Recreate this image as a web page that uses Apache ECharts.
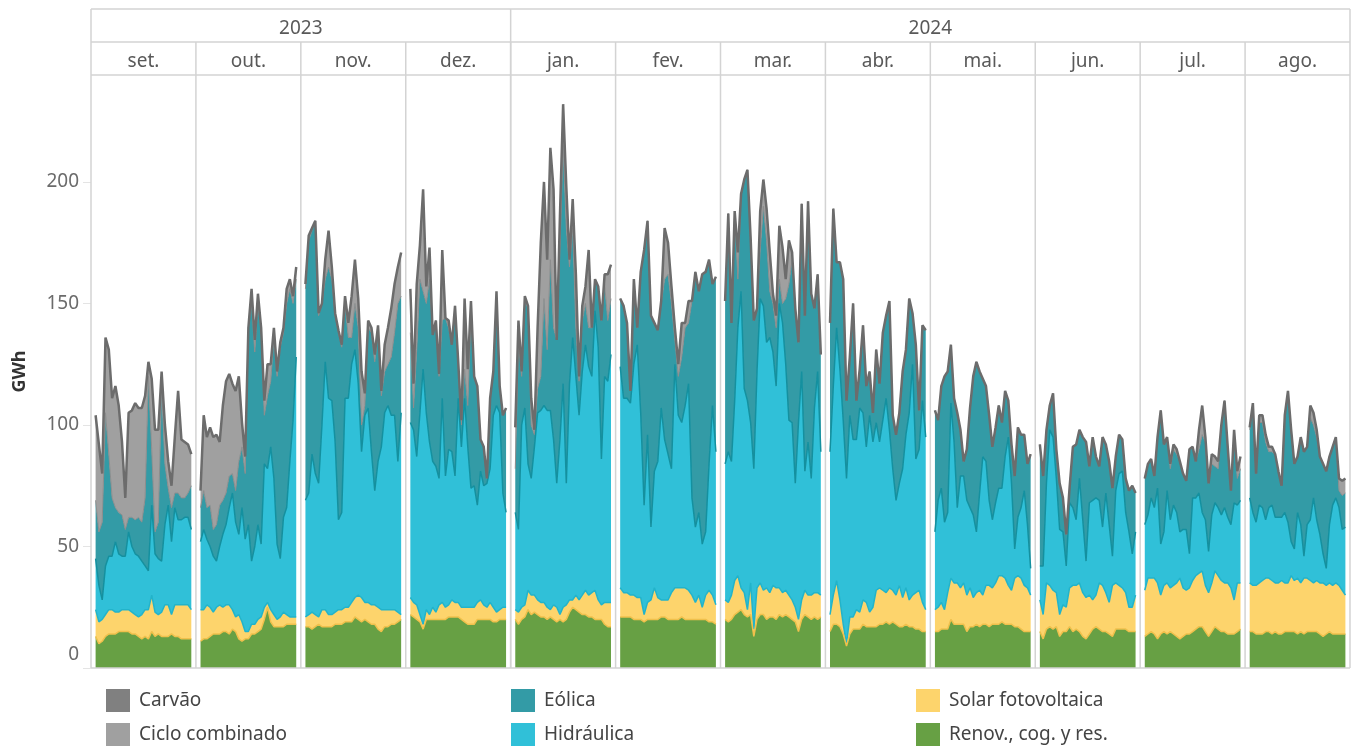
<!DOCTYPE html>
<html lang="pt">
<head>
<meta charset="utf-8">
<title>Produção diária de eletricidade por fonte</title>
<script src="https://cdn.jsdelivr.net/npm/echarts/dist/echarts.min.js"></script>
<style>
  html, body { margin: 0; padding: 0; background: #ffffff; }
  #chart { width: 1356px; height: 746px; }
</style>
</head>
<body>
<div id="chart"></div>
<script>
// ---- Categories -----------------------------------------------------------
const monthLabels = ['set.', 'out.', 'nov.', 'dez.', 'jan.', 'fev.', 'mar.', 'abr.', 'mai.', 'jun.', 'jul.', 'ago.'];
const yearLabels = ['2023', '2024'];
const monthsPerYear = [4, 8];

// ---- Daily generation (GWh), one inner array per month, set. 2023 .. ago. 2024 ----
const renovCogRes = [
  [13,10,11,13,14,14,14,15,15,15,15,14,14,13,12,13,12,15,13,14,13,13,13,14,13,13,12,12,12,12],
  [11,12,12,13,14,14,14,15,15,14,16,15,12,11,12,12,14,14,15,16,20,25,19,17,17,17,17,18,18,18,18],
  [17,17,16,17,18,17,17,17,17,18,18,18,19,19,19,21,20,19,20,19,18,18,16,15,17,17,18,18,19,20],
  [22,21,20,19,16,20,20,20,20,20,20,20,21,21,21,21,20,19,18,18,18,20,20,20,20,20,19,19,20,20,20],
  [20,18,20,21,24,22,23,22,21,21,20,21,20,19,20,19,20,23,25,24,23,22,22,21,21,20,20,20,18,17,17],
  [21,21,21,21,20,20,20,19,20,20,20,20,21,21,20,20,20,20,21,20,20,20,20,20,20,20,19,19,18],
  [20,19,20,22,23,24,22,21,22,13,20,22,22,20,21,21,20,22,21,22,21,20,19,15,20,22,21,20,21,20,21],
  [15,18,18,17,14,9,14,16,16,16,18,17,17,17,17,18,18,19,18,19,18,17,17,18,17,17,16,16,15,15],
  [15,15,16,16,16,20,18,18,18,18,15,17,17,18,17,18,18,17,18,18,18,19,18,18,18,17,17,16,15,15,15],
  [15,12,16,17,16,17,13,15,15,17,15,16,15,13,12,14,16,17,16,15,15,14,13,16,16,16,16,15,15,15],
  [13,14,15,14,12,14,15,14,15,14,13,12,13,14,14,15,16,17,17,15,13,15,17,16,15,15,14,14,14,15,16],
  [15,15,14,14,14,15,15,14,15,14,14,15,15,15,15,14,15,14,15,15,15,15,14,13,14,15,14,14,14,14,14]
];
const solarFV = [
  [11,9,9,9,10,10,9,8,9,9,9,9,8,8,10,11,12,15,10,8,10,13,13,8,13,13,14,14,14,12],
  [13,12,14,12,9,11,12,10,11,12,8,6,10,8,3,3,4,4,5,5,5,2,5,5,3,4,6,4,3,3,3],
  [4,5,7,5,3,7,7,5,5,5,6,6,6,6,8,8,10,10,7,8,8,8,9,9,7,7,6,6,4,2],
  [7,6,6,3,2,4,2,5,3,6,7,5,5,7,6,6,5,6,7,7,7,7,8,6,5,7,6,4,4,5,5],
  [4,5,5,5,8,8,7,6,6,6,5,3,6,6,2,6,6,5,3,6,5,8,10,9,10,12,8,6,9,10,10],
  [12,10,10,9,10,9,9,3,7,8,13,9,7,7,8,11,13,13,12,13,12,10,7,10,5,10,13,11,8],
  [8,8,10,14,15,9,9,3,13,3,13,13,10,13,10,13,13,11,10,10,9,8,6,5,8,10,9,10,10,11,9],
  [7,12,18,11,4,1,7,5,8,7,10,10,6,8,15,15,14,12,15,13,12,17,12,15,11,13,15,16,12,9],
  [9,10,11,8,15,17,17,17,15,17,15,16,12,13,15,12,16,17,15,17,20,19,19,16,14,20,21,21,19,18,15],
  [13,10,19,17,16,14,9,11,10,16,19,18,20,18,17,16,12,13,19,19,16,13,21,19,18,17,15,10,10,15],
  [19,23,22,23,23,16,19,21,18,20,22,25,20,18,19,21,22,22,23,19,18,20,23,22,21,20,21,19,14,20,19],
  [20,19,20,21,22,22,22,22,20,21,22,20,20,23,21,23,20,23,22,21,20,21,21,22,20,20,20,21,20,18,16]
];
const hidraulica = [
  [21,15,8,20,22,22,29,24,22,22,32,27,25,25,22,18,16,37,24,23,21,33,41,30,40,35,35,36,36,33],
  [28,33,27,25,23,19,24,30,33,40,48,39,33,47,38,44,26,32,39,30,59,55,67,56,31,24,39,44,64,81,107],
  [48,50,65,58,55,76,102,89,88,70,37,40,86,86,98,102,87,60,77,80,63,47,60,67,81,84,80,80,62,83],
  [72,71,61,83,105,81,71,60,60,52,84,54,64,61,52,84,66,86,66,49,50,40,53,49,51,55,79,85,81,47,39],
  [40,34,75,81,52,48,61,77,79,81,81,82,68,51,72,92,50,89,108,90,76,92,101,94,89,115,104,60,93,91,102],
  [91,80,80,79,95,104,76,45,69,30,48,56,79,66,60,51,92,71,68,75,85,40,31,34,26,26,52,78,63],
  [56,62,55,74,102,122,84,86,66,66,89,117,117,101,105,96,83,117,111,93,72,73,51,81,94,49,63,48,76,91,59],
  [67,86,104,95,84,68,83,73,70,84,77,64,81,68,69,60,70,80,65,50,39,42,53,63,77,95,55,58,83,71],
  [32,44,47,36,33,72,58,31,46,44,39,33,34,25,40,57,51,35,28,33,36,36,50,61,44,12,24,29,39,26,11],
  [14,20,41,64,63,47,35,30,17,35,32,27,43,30,15,38,41,40,34,24,41,32,12,38,46,48,33,31,22,26],
  [27,26,33,29,39,21,22,38,28,33,29,19,24,25,14,34,32,33,24,27,17,28,28,28,27,31,27,26,40,32,34],
  [35,30,26,32,30,24,29,31,27,27,26,29,25,14,13,27,24,9,22,25,35,25,20,12,7,24,33,35,32,25,28]
];
const eolica = [
  [24,22,32,63,42,24,14,17,17,11,6,12,14,16,16,28,80,23,9,15,72,25,7,14,6,11,9,8,10,18],
  [14,16,13,17,11,15,17,14,13,13,8,13,30,25,27,81,106,80,91,87,20,30,27,58,69,87,76,84,71,48,32],
  [87,104,92,104,69,50,34,54,50,52,77,68,39,25,11,19,23,11,4,33,49,53,53,21,17,17,24,34,65,48],
  [37,9,44,55,32,45,67,52,60,42,32,65,50,44,70,15,9,12,17,71,45,49,13,16,2,29,18,45,11,32,43],
  [18,77,20,44,64,22,5,10,14,44,25,62,46,59,78,98,105,48,45,20,14,21,17,16,20,13,25,57,38,25,23],
  [28,38,31,5,35,7,58,105,88,87,61,54,43,66,74,68,10,16,27,32,25,81,105,91,111,107,84,50,72],
  [67,98,57,78,20,40,86,95,76,61,26,20,41,42,19,20,24,10,8,27,56,67,72,33,69,64,99,76,41,40,40],
  [53,73,27,44,58,32,24,56,16,16,36,25,18,12,30,24,36,34,53,22,27,29,40,35,47,21,47,16,31,44],
  [50,33,42,60,58,24,18,39,19,6,21,41,57,70,50,32,31,35,30,31,34,27,27,15,16,30,37,30,23,25,47],
  [50,37,22,10,18,12,19,14,13,6,25,31,20,34,49,15,26,17,14,37,20,26,28,14,16,13,14,17,28,16],
  [19,21,16,13,21,55,36,22,21,23,24,29,23,20,43,21,15,18,32,32,28,21,15,16,36,44,29,14,28,11,13],
  [28,44,20,34,35,32,23,22,26,19,13,40,54,46,35,23,36,43,32,42,30,34,32,37,40,28,24,25,7,14,14]
];
const cicloCombinado = [
  [35,36,20,31,43,41,50,44,30,13,43,44,48,45,47,42,6,29,42,38,6,16,11,9,23,42,24,23,20,13],
  [7,31,29,32,38,37,26,39,46,42,37,41,35,10,7,0,6,5,4,2,6,13,7,4,2,2,2,6,4,3,5],
  [2,2,1,0,1,0,8,15,5,1,1,1,3,6,17,18,12,22,5,3,2,3,3,2,11,15,20,20,15,18],
  [18,10,27,14,42,7,13,0,0,1,29,0,3,0,0,0,2,29,15,6,0,0,0,0,0,0,0,2,0,0,0],
  [17,9,2,2,1,11,2,25,55,48,37,46,57,0,14,17,17,3,12,22,2,6,7,32,0,0,0,0,4,19,14],
  [0,0,0,0,0,0,0,0,0,0,0,0,1,21,13,7,5,5,14,2,9,0,0,0,0,0,0,0,0],
  [0,0,0,0,11,0,0,0,0,0,0,16,11,13,16,4,5,22,23,8,18,3,0,0,0,0,0,0,0,0,0],
  [0,0,0,0,0,0,0,0,0,0,0,0,0,0,0,0,0,0,0,0,0,0,0,0,0,0,0,0,0,0],
  [0,0,0,0,0,0,0,0,0,0,0,0,0,0,0,0,0,0,0,0,0,0,0,0,0,0,0,0,0,0,0],
  [0,0,0,0,0,0,0,0,0,0,0,0,0,0,0,0,0,0,0,0,0,0,0,0,0,0,0,0,0,0],
  [0,0,0,0,0,0,0,0,2,2,2,0,0,0,0,0,0,8,12,2,0,4,4,3,1,0,0,0,2,3,5],
  [1,1,0,3,3,3,2,2,0,0,0,0,0,0,0,0,0,0,0,5,5,3,0,0,0,0,0,0,5,6,6]
];
const carvao = [
  [0,0,0,0,0,0,0,0,0,0,0,0,0,0,0,0,0,0,0,0,0,0,0,0,0,0,0,0,0,0],
  [0,0,0,0,0,0,0,0,0,0,0,0,0,0,0,0,0,0,0,0,0,0,0,0,0,0,0,0,0,0,0],
  [0,0,0,0,0,0,0,0,0,0,0,0,0,0,0,0,0,0,0,0,0,0,0,0,0,0,0,0,0,0],
  [0,0,0,0,0,0,0,0,0,0,0,0,0,0,0,0,0,0,0,0,0,0,0,0,0,0,0,0,0,0,0],
  [0,0,0,0,0,0,0,0,0,0,0,0,0,0,0,0,0,0,0,0,0,0,0,0,0,0,0,0,0,0,0],
  [0,0,0,0,0,0,0,0,0,0,0,0,0,0,0,0,0,0,0,0,0,0,0,0,0,0,0,0,0],
  [0,0,0,0,0,0,0,0,0,0,0,0,0,0,0,0,0,0,0,0,0,0,0,0,0,0,0,0,0,0,0],
  [0,0,0,0,0,0,0,0,0,0,0,0,0,0,0,0,0,0,0,0,0,0,0,0,0,0,0,0,0,0],
  [0,0,0,0,0,0,0,0,0,0,0,0,0,0,0,0,0,0,0,0,0,0,0,0,0,0,0,0,0,0,0],
  [0,0,0,0,0,0,0,0,0,0,0,0,0,0,0,0,0,0,0,0,0,0,0,0,0,0,0,0,0,0],
  [0,0,0,0,0,0,0,0,0,0,0,0,0,0,0,0,0,0,0,0,0,0,0,0,0,0,0,0,0,0,0],
  [0,0,0,0,0,0,0,0,0,0,0,0,0,0,0,0,0,0,0,0,0,0,0,0,0,0,0,0,0,0,0]
];

// ---- Stack order (bottom to top) and styling ----------------------------------
// Each area carries a thin border along its upper edge; lower layers are drawn
// above upper ones so that the borders stay visible.
const layers = [
  { name: 'Renov., cog. y res.', data: renovCogRes,    fill: '#67a044', edge: '#f0c04c', edgeW: 1.5, z: 8 },
  { name: 'Solar fotovoltaica',  data: solarFV,        fill: '#fdd46c', edge: '#22b3ca', edgeW: 1.5, z: 7 },
  { name: 'Hidráulica',          data: hidraulica,     fill: '#30c0d8', edge: '#14909f', edgeW: 1.5, z: 6 },
  { name: 'Eólica',              data: eolica,         fill: '#339ba6', edge: '#8d8d8d', edgeW: 1,   z: 5 },
  { name: 'Ciclo combinado',     data: cicloCombinado, fill: '#a0a0a0', edge: '#6c6c6c', edgeW: 0,   z: 4 },
  { name: 'Carvão',              data: carvao,         fill: '#808080', edge: '#6c6c6c', edgeW: 2.5, z: 9 }
];
const legendColumns = [
  ['Carvão', 'Ciclo combinado'],
  ['Eólica', 'Hidráulica'],
  ['Solar fotovoltaica', 'Renov., cog. y res.']
];

// ---- Layout --------------------------------------------------------------------
const FONT = '"Noto Sans", "DejaVu Sans", sans-serif';
const frame = { left: 91, right: 1350, top: 9, yearBottom: 42, headerBottom: 75, bottom: 668, inset: 4.6 };
const Y_MAX = 244;
const monthW = (frame.right - frame.left) / monthLabels.length;
const lineColor = '#d3d3d3';

const grids = [], xAxes = [], yAxes = [], series = [];
monthLabels.forEach((label, i) => {
  const nDays = renovCogRes[i].length;
  grids.push({
    left: frame.left + i * monthW + frame.inset,
    width: monthW - 2 * frame.inset,
    top: frame.headerBottom,
    height: frame.bottom - frame.headerBottom
  });
  xAxes.push({
    type: 'category', gridIndex: i, boundaryGap: false, show: false,
    data: Array.from({ length: nDays }, (_, d) => String(d + 1))
  });
  yAxes.push({
    type: 'value', gridIndex: i, min: 0, max: Y_MAX, interval: 50,
    show: i === 0,
    offset: frame.inset,
    name: i === 0 ? 'GWh' : '',
    nameLocation: 'middle',
    nameGap: 62,
    nameTextStyle: { fontFamily: FONT, fontSize: 18, fontWeight: 'bold', color: '#333333' },
    axisLine: { show: false },
    splitLine: { show: false },
    axisTick: { show: true, length: 8, lineStyle: { color: '#e4e4e4', width: 1 } },
    axisLabel: {
      margin: 12, color: '#6b6b6b', fontFamily: FONT, fontSize: 19, lineHeight: 26,
      showMaxLabel: false,
      // the baseline label sits just above the floor of the plot
      formatter: v => (v === 0 ? '0\n ' : String(v))
    }
  });
  layers.forEach(layer => {
    series.push({
      type: 'line',
      name: layer.name,
      xAxisIndex: i,
      yAxisIndex: i,
      stack: 'month' + i,
      data: layer.data[i],
      symbol: 'none',
      silent: true,
      z: layer.z,
      itemStyle: { color: layer.fill },
      lineStyle: { color: layer.edge, width: layer.edgeW },
      areaStyle: { color: layer.fill, opacity: 1 },
      emphasis: { disabled: true }
    });
  });
});

// ---- Frame and header (year and month rows) --------------------------------------
const graphics = [];
const hLine = (y, x1, x2) => graphics.push({
  type: 'line', silent: true, z: 20,
  shape: { x1: x1, y1: y, x2: x2, y2: y },
  style: { stroke: lineColor, lineWidth: 1.5 }
});
const vLine = (x, y1, y2) => graphics.push({
  type: 'line', silent: true, z: 20,
  shape: { x1: x, y1: y1, x2: x, y2: y2 },
  style: { stroke: lineColor, lineWidth: 1.5 }
});
[frame.top, frame.yearBottom, frame.headerBottom, frame.bottom].forEach(y => hLine(y, frame.left, frame.right));
vLine(frame.left, frame.top, frame.bottom);
vLine(frame.right, frame.top, frame.bottom);

const headerTextDrop = 3;
let monthStart = 0;
yearLabels.forEach((year, k) => {
  const x0 = frame.left + monthStart * monthW;
  const x1 = x0 + monthsPerYear[k] * monthW;
  if (monthStart > 0) vLine(x0, frame.top, frame.bottom);
  graphics.push({
    type: 'text', silent: true, z: 21,
    x: (x0 + x1) / 2, y: (frame.top + frame.yearBottom) / 2 + headerTextDrop,
    style: { text: year, fill: '#595959', fontFamily: FONT, fontSize: 19, align: 'center', verticalAlign: 'middle' }
  });
  monthStart += monthsPerYear[k];
});
monthLabels.forEach((label, i) => {
  const x0 = frame.left + i * monthW;
  if (i > 0) vLine(x0, frame.yearBottom, frame.bottom);
  graphics.push({
    type: 'text', silent: true, z: 21,
    x: x0 + monthW / 2, y: (frame.yearBottom + frame.headerBottom) / 2 + headerTextDrop,
    style: { text: label, fill: '#595959', fontFamily: FONT, fontSize: 19, align: 'center', verticalAlign: 'middle' }
  });
});

// ---- Legend: three columns of two entries ----------------------------------------
const legendLeft = [106, 511, 916];
const legends = legendColumns.map((names, c) => ({
  orient: 'vertical',
  left: legendLeft[c],
  top: 689,
  height: 57,
  itemWidth: 24,
  itemHeight: 23,
  itemGap: 11,
  icon: 'rect',
  selectedMode: false,
  padding: 0,
  itemStyle: { borderWidth: 0 },
  textStyle: { fontFamily: FONT, fontSize: 19, color: '#444444', padding: [0, 0, 0, 4] },
  data: names.map(n => ({ name: n, itemStyle: { color: layers.find(l => l.name === n).fill, borderWidth: 0 } }))
}));

const chart = echarts.init(document.getElementById('chart'), null, { renderer: 'canvas' });
chart.setOption({
  animation: false,
  backgroundColor: '#ffffff',
  textStyle: { fontFamily: FONT },
  grid: grids,
  xAxis: xAxes,
  yAxis: yAxes,
  legend: legends,
  graphic: graphics,
  series: series
});
</script>
</body>
</html>
